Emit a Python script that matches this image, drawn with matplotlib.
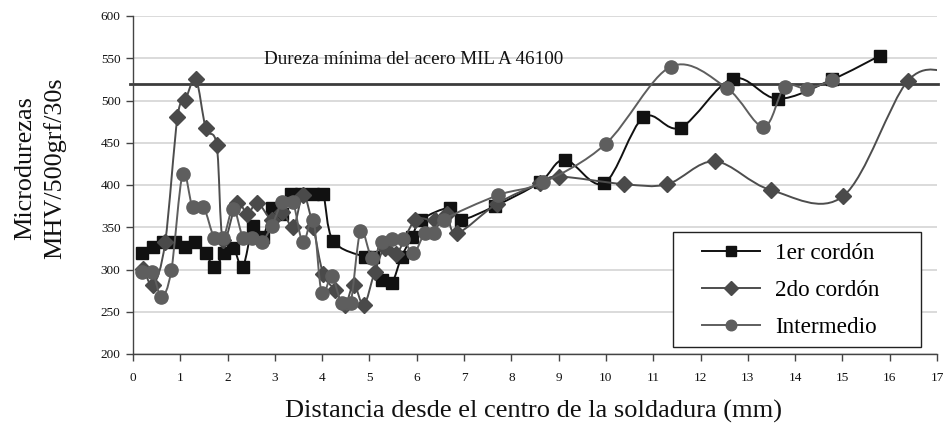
import matplotlib
matplotlib.use("Agg")
import matplotlib.pyplot as plt
from matplotlib.path import Path
from matplotlib.patches import PathPatch, Rectangle
from matplotlib.lines import Line2D

plt.rcParams['font.family'] = ['Liberation Serif', 'DejaVu Serif']

# ---- data ----
x_1er = [0.20, 0.43, 0.64, 0.89, 1.10, 1.31, 1.54, 1.72, 1.93, 2.12, 2.32, 2.54, 2.75,
         2.93, 3.16, 3.35, 3.56, 3.81, 4.02, 4.23, 4.90, 5.08, 5.26, 5.47, 5.68, 5.89,
         6.10, 6.70, 6.93, 7.65, 8.60, 9.13, 9.96, 10.79, 11.58, 12.68, 13.64, 14.79, 15.79]
y_1er = [320, 327, 332, 333, 327, 332, 319, 303, 319, 326, 303, 351, 338,
         373, 366, 389, 389, 389, 389, 334, 315, 315, 288, 284, 315, 338,
         359, 373, 359, 375, 403, 430, 402, 480, 468, 526, 502, 525, 553]

x_2do = [0.22, 0.43, 0.68, 0.94, 1.11, 1.33, 1.54, 1.77, 1.90, 2.19, 2.42, 2.63, 2.93,
         3.16, 3.39, 3.60, 3.81, 4.02, 4.27, 4.48, 4.67, 4.88, 5.11, 5.32, 5.57, 5.96,
         6.38, 6.63, 6.85, 7.70, 8.60, 9.01, 10.38, 11.30, 12.30, 13.49, 15.02, 16.38, 17.30]
y_2do = [301, 282, 332, 480, 501, 525, 467, 447, 335, 379, 366, 379, 359,
         368, 350, 388, 350, 295, 276, 258, 282, 258, 297, 325, 318, 358,
         358, 366, 343, 378, 402, 410, 401, 401, 428, 394, 387, 523, 533]

x_int = [0.20, 0.41, 0.60, 0.81, 1.05, 1.26, 1.49, 1.72, 1.91, 2.12, 2.33, 2.52, 2.72,
         2.93, 3.16, 3.38, 3.59, 3.81, 3.99, 4.20, 4.41, 4.60, 4.81, 5.05, 5.26, 5.47,
         5.71, 5.93, 6.17, 6.36, 6.57, 7.72, 8.67, 10.00, 11.37, 12.55, 13.33, 13.78,
         14.26, 14.79]
y_int = [297, 297, 268, 299, 413, 374, 374, 337, 337, 372, 337, 337, 333,
         351, 380, 380, 332, 359, 272, 292, 260, 260, 345, 314, 332, 336,
         336, 319, 343, 343, 359, 388, 403, 449, 540, 515, 469, 516,
         514, 524]

labels = ['1er cordón', '2do cordón', 'Intermedio']
min_hardness = 520
min_label = 'Dureza mínima del acero MIL A 46100'
x_ticks = list(range(0, 18))
y_ticks = list(range(200, 601, 50))

# ---- helpers ----
def smooth_path(x, y):
    n = len(x)
    verts = [(x[0], y[0])]
    codes = [Path.MOVETO]
    for i in range(n - 1):
        a = i - 1 if i > 0 else i
        d = i + 2 if i + 2 < n else i + 1
        c1 = (x[i] + (x[i + 1] - x[a]) / 6.0, y[i] + (y[i + 1] - y[a]) / 6.0)
        c2 = (x[i + 1] - (x[d] - x[i]) / 6.0, y[i + 1] - (y[d] - y[i]) / 6.0)
        verts += [c1, c2, (x[i + 1], y[i + 1])]
        codes += [Path.CURVE4] * 3
    return Path(verts, codes)

W, H = 946, 437
fig = plt.figure(figsize=(W / 100, H / 100), dpi=100)
ax = fig.add_axes([133 / W, 1 - 354 / H, (937 - 133) / W, (354 - 16) / H])

ax.set_xlim(0, 17)
ax.set_ylim(200, 600)
ax.set_xticks(x_ticks)
ax.set_yticks(y_ticks)
ax.yaxis.grid(True, color='#d4d4d4', linewidth=1.2)
ax.set_axisbelow(True)
for s in ['top', 'right']:
    ax.spines[s].set_visible(False)
for s in ['left', 'bottom']:
    ax.spines[s].set_color('#444444')
    ax.spines[s].set_linewidth(1.0)
ax.tick_params(axis='both', direction='out', length=5, width=1.0, color='#444444',
               labelsize=9.5, labelcolor='#111111')
ax.tick_params(axis='x', pad=8)
ax.tick_params(axis='y', pad=4)

# minimum hardness line
xl = ax.get_xlim()
ax.plot([xl[0] - 0.06, xl[1] + 0.03], [min_hardness, min_hardness], color='#3c3c3c',
        linewidth=2.0, clip_on=False, zorder=2)
ax.text(2.78, 549, min_label, fontsize=13.7, color='#111111', va='center', ha='left')

series = [
    (x_1er, y_1er, '#111111', '#111111', 's', 8.5, 1.4),
    (x_2do, y_2do, '#4d4d4d', '#4a4a4a', 'D', 8.5, 1.4),
    (x_int, y_int, '#5e5e5e', '#5e5e5e', 'o', 9.5, 1.4),
]
handles = []
for k, (xs, ys, lc, mc, mk, ms, lw) in enumerate(series):
    z = 3 + k
    ax.add_patch(PathPatch(smooth_path(xs, ys), fill=False, edgecolor=lc, linewidth=lw,
                           zorder=z))
    ax.plot(xs, ys, linestyle='none', marker=mk, markersize=ms, color=mc,
            markeredgecolor=mc, zorder=z)
    handles.append(Line2D([], [], color=lc, linewidth=lw, marker=mk, markersize=ms * 0.8,
                          markerfacecolor=mc, markeredgecolor=mc))

# legend frame (drawn separately for Excel-like padding)
fig.add_artist(Rectangle((673 / W, 1 - 347 / H), (921 - 673) / W, (347 - 232) / H,
                         transform=fig.transFigure, facecolor='white',
                         edgecolor='#222222', linewidth=1.0, zorder=9))
leg = fig.legend(handles, labels, loc='upper left',
                 bbox_to_anchor=(702 / W, 1 - 243 / H), bbox_transform=fig.transFigure,
                 fontsize=16.7, frameon=False,
                 handlelength=2.5, handletextpad=0.65, labelspacing=0.68,
                 borderpad=0, borderaxespad=0)
leg.set_zorder(10)

fig.text(533 / W, 1 - 411 / H, 'Distancia desde el centro de la soldadura (mm)',
         fontsize=19, ha='center', va='center', color='#111111')
fig.text(25 / W, 1 - 168 / H, 'Microdurezas', fontsize=18.8, rotation=90,
         ha='center', va='center', color='#111111')
fig.text(55 / W, 1 - 168 / H, 'MHV/500grf/30s', fontsize=18.8, rotation=90,
         ha='center', va='center', color='#111111')

fig.savefig('out.png', dpi=100)
